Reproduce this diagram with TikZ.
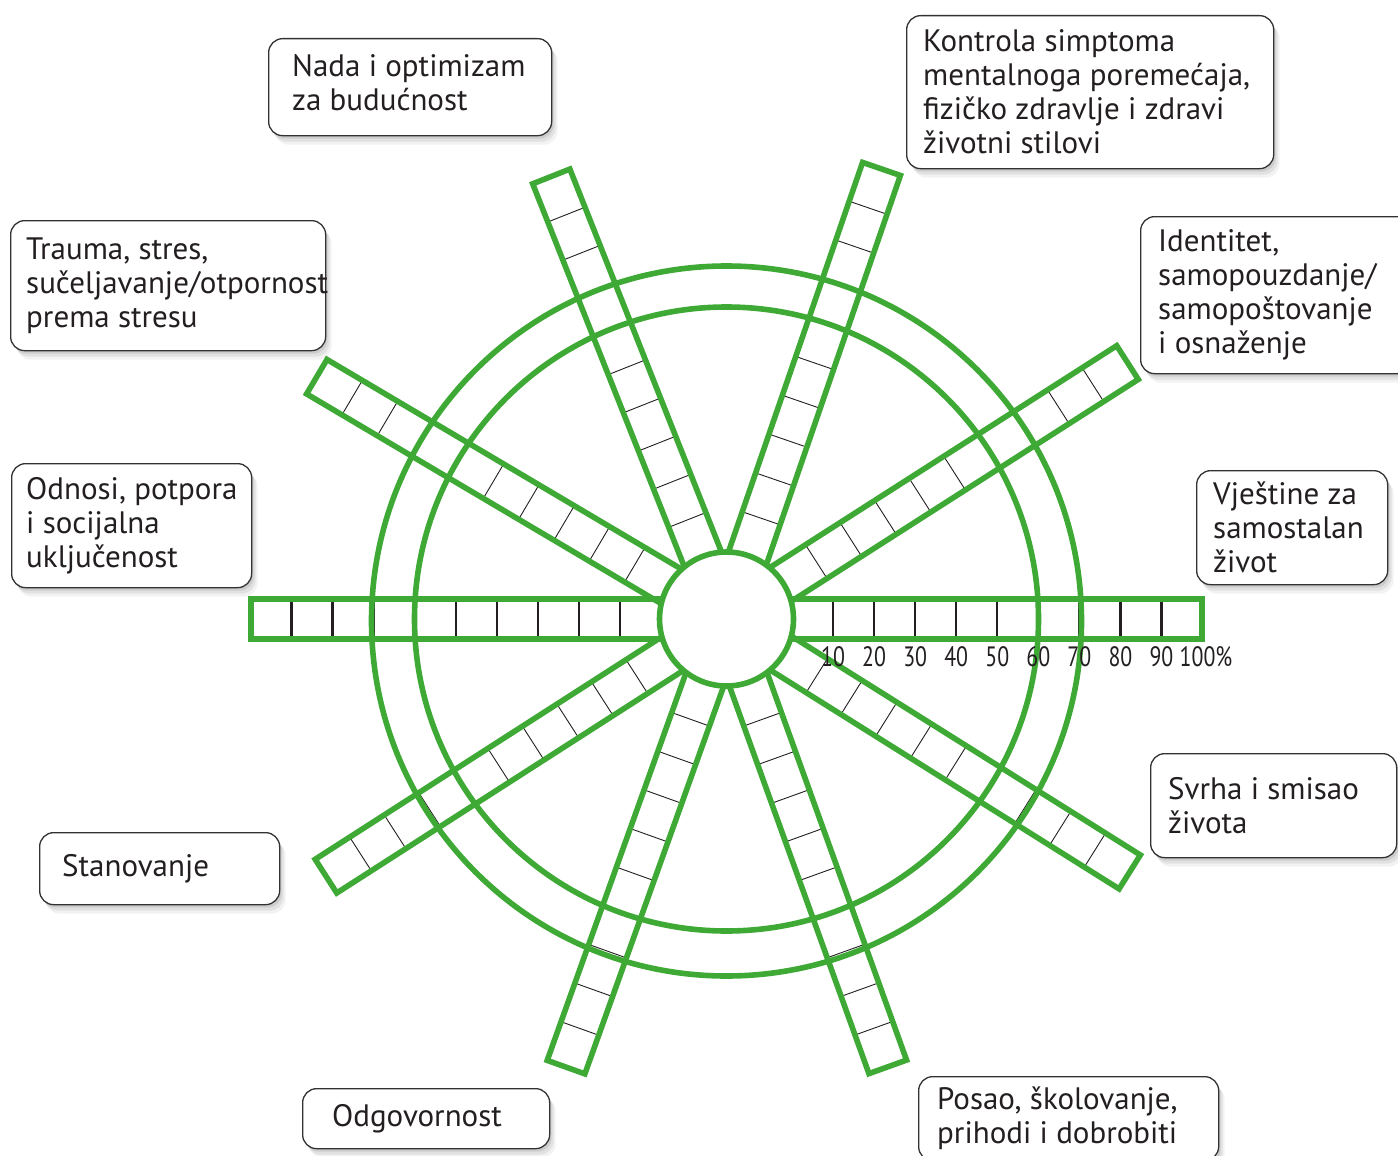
\documentclass[tikz,border=0pt]{standalone}
\usepackage{fontspec}
\setmainfont{PT Sans}
\usepackage{graphicx}
\usetikzlibrary{shadows}
\definecolor{wgreen}{RGB}{62,170,53}
\definecolor{ink}{RGB}{35,31,32}
\definecolor{frame}{RGB}{50,50,50}
\begin{document}
\begin{tikzpicture}[x=1pt,y=-1pt,
  bar/.style={draw=wgreen,line width=5.6pt},
  ring/.style={draw=wgreen,line width=5.6pt},
  thintick/.style={draw=ink,line width=0.9pt},
  thicktick/.style={draw=ink,line width=2.4pt},
  num/.style={inner sep=0pt,text=ink,font=\fontsize{28}{28}\selectfont},
  box/.style={draw=frame,line width=1.3pt,rounded corners=14pt,fill=white,anchor=north west,inner sep=0pt,
    drop shadow={shadow xshift=2pt,shadow yshift=-3pt,opacity=0.09,fill=black},
    drop shadow={shadow xshift=4pt,shadow yshift=-6pt,opacity=0.07,fill=black},
    drop shadow={shadow xshift=6pt,shadow yshift=-9pt,opacity=0.05,fill=black}},
  lbl/.style={anchor=west,align=left,inner sep=0pt,text=ink,font=\fontsize{31}{34}\selectfont}]
\useasboundingbox (0,0) rectangle (1398,1156);

% angled spokes
\foreach \a in {32.6,71,111.6,149.4,212.7,250.3,289.8,327.9} {
  \begin{scope}[shift={(726.5,619)},rotate=\a]
    \foreach \k in {1,...,9} \draw[thintick] ({65.5+41.05*\k},-20) -- ({65.5+41.05*\k},20);
    \draw[bar] (0,-20) rectangle (476,20);
  \end{scope}
}
% horizontal spoke
\foreach \k in {1,...,9} {
  \draw[thicktick] ({726.5+65.5+41.05*\k},600) -- ++(0,38);
  \draw[thicktick] ({726.5-65.5-41.05*\k},600) -- ++(0,38);
}
\draw[bar] (251,599) rectangle (1202,639);

% rings
\draw[ring] (726.5,619) circle[radius=312];
\draw[ring] (726.5,621) circle[radius=355];
\node[circle,draw=wgreen,line width=5.6pt,fill=white,minimum size=134pt,inner sep=0pt] (hub) at (726.5,619) {};

% scale numbers
\foreach \k in {1,...,9} {
  \node[num] (n\k) at ({726.5+65.5+41.05*\k},657) {\scalebox{0.78}[1]{\k0}};
}
\node[num] (n10) at (1206,657) {\scalebox{0.78}[1]{100\%}};

% label boxes
\node[box,minimum width=283pt,minimum height=97pt] (nada) at (268,38) {};
\node[lbl,yshift=4pt] (nadat) at ([xshift=24pt]nada.west) {Nada i optimizam\\za budućnost};

\node[box,minimum width=367pt,minimum height=153pt] (kontrola) at (906,15) {};
\node[lbl] (kontrolat) at ([xshift=17pt]kontrola.west) {Kontrola simptoma\\mentalnoga poremećaja,\\fizičko zdravlje i zdravi\\životni stilovi};

\node[box,minimum width=280pt,minimum height=157pt] (ident) at (1140,216) {};
\node[lbl] (identt) at ([xshift=18pt]ident.west) {Identitet,\\samopouzdanje/\\samopoštovanje\\i osnaženje};

\node[box,minimum width=191pt,minimum height=114pt] (vjest) at (1196,470) {};
\node[lbl] (vjestt) at ([xshift=17pt]vjest.west) {Vještine za\\samostalan\\život};

\node[box,minimum width=246pt,minimum height=104pt] (svrha) at (1150,753) {};
\node[lbl] (svrhat) at ([xshift=18pt]svrha.west) {Svrha i smisao\\života};

\node[box,minimum width=300pt,minimum height=84pt] (posao) at (918,1076) {};
\node[lbl] (posaot) at ([xshift=19pt]posao.west) {Posao, školovanje,\\prihodi i dobrobiti};

\node[box,minimum width=247pt,minimum height=60pt] (odgov) at (302,1088) {};
\node[lbl] (odgovt) at ([xshift=30pt]odgov.west) {Odgovornost};

\node[box,minimum width=240pt,minimum height=72pt] (stan) at (39,832) {};
\node[lbl] (stant) at ([xshift=23pt]stan.west) {Stanovanje};

\node[box,minimum width=240pt,minimum height=124pt] (odnosi) at (11,463) {};
\node[lbl] (odnosit) at ([xshift=15pt]odnosi.west) {Odnosi, potpora\\i socijalna\\uključenost};

\node[box,minimum width=315pt,minimum height=130pt] (trauma) at (10,220) {};
\node[lbl] (traumat) at ([xshift=16pt]trauma.west) {Trauma, stres,\\sučeljavanje/otpornost\\prema stresu};
\end{tikzpicture}
\end{document}
